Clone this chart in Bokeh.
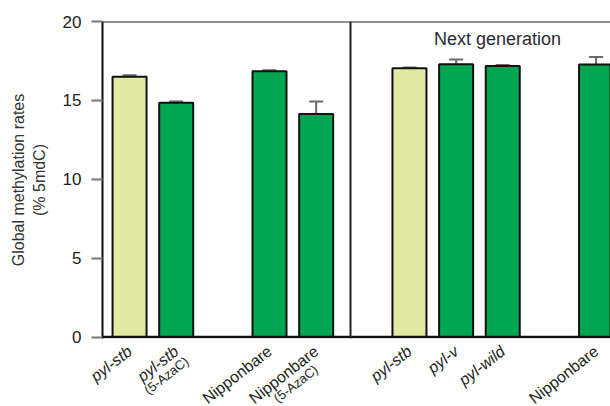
import math
from bokeh.plotting import figure
from bokeh.layouts import column
from bokeh.models import Range1d, Span, Whisker, ColumnDataSource, FixedTicker, TeeHead, Label
from bokeh.core.properties import value
from bokeh.embed import file_html
from bokeh.resources import INLINE

# ---- data ----
labels = ["pyl-stb", "pyl-stb", "Nipponbare", "Nipponbare",
          "pyl-stb", "pyl-v", "pyl-wild", "Nipponbare"]
sublabels = ["", "(5-AzaC)", "", "(5-AzaC)", "", "", "", ""]
italic = [True, True, False, False, True, True, True, False]
values = [16.5, 14.85, 16.85, 14.13, 17.04, 17.29, 17.18, 17.27]
errors = [0.1, 0.08, 0.06, 0.8, 0.04, 0.3, 0.06, 0.48]
light = [True, False, False, False, True, False, False, False]
group_sizes = [2, 2, 3, 1]
y_ticks = [0, 5, 10, 15, 20]
panel_title = "Next generation"
y_title = "Global methylation rates\n(% 5mdC)"

# ---- layout ----
W, H = 610, 406
LEFT, TOP = 102, 21
FRAME_W, FRAME_H = W - LEFT, 317
MAIN_BOTTOM = 9
MAIN_H = TOP + FRAME_H + MAIN_BOTTOM
OVERLAP = 6                      # label strip slides under the main plot's bottom border
STRIP_H = H - MAIN_H + OVERLAP
SLOT_PX = 46.65
PX_Y = FRAME_H / 20.0
x_start = -0.58
x_end = x_start + FRAME_W / SLOT_PX
FONT = "Liberation Sans"
LIGHT_C = "#e1e9a3"
GREEN_C = "#00a651"
INK = "#222222"

slots = []
s = 0
for g in group_sizes:
    for _ in range(g):
        slots.append(s)
        s += 1
    s += 1

def dx(px):
    return px / SLOT_PX

def dy(px):
    return px / PX_Y

y0 = -dy(1.5)
p = figure(width=W, height=MAIN_H,
           x_range=Range1d(x_start, x_end), y_range=Range1d(y0, 20),
           output_backend="svg", toolbar_location=None,
           min_border_left=LEFT, min_border_right=0,
           min_border_top=TOP, min_border_bottom=MAIN_BOTTOM)
p.frame_align = False
p.outline_line_color = None
p.xgrid.visible = False
p.ygrid.visible = False
p.xaxis.visible = False

src = ColumnDataSource(dict(
    x=slots, top=values,
    upper=[v + e for v, e in zip(values, errors)],
    color=[LIGHT_C if l else GREEN_C for l in light],
))

w = Whisker(source=src, base="x", lower="top", upper="upper",
            line_color="#6a6a6a", line_width=2,
            upper_head=TeeHead(size=14, line_color="#6a6a6a", line_width=2),
            lower_head=None)
p.add_layout(w)

p.vbar(x="x", top="top", bottom=0, width=dx(34), source=src, fill_color="color",
       line_color="#111111", line_width=2)

# y axis
p.yaxis.ticker = FixedTicker(ticks=y_ticks)
p.yaxis.axis_line_color = "#111111"
p.yaxis.axis_line_width = 2
p.yaxis.major_tick_in = 0
p.yaxis.major_tick_out = 11
p.yaxis.major_tick_line_color = "#777777"
p.yaxis.major_tick_line_width = 2
p.yaxis.minor_tick_line_color = None
p.yaxis.major_label_text_font = FONT
p.yaxis.major_label_text_font_size = "17px"
p.yaxis.major_label_text_color = INK
p.yaxis.major_label_standoff = 10
p.yaxis.axis_label = y_title
p.yaxis.axis_label_text_font = FONT
p.yaxis.axis_label_text_font_size = "16px"
p.yaxis.axis_label_text_font_style = "normal"
p.yaxis.axis_label_text_color = "#333333"
p.yaxis.axis_label_standoff = 12

# frame lines: bottom, top and divider
p.add_layout(Span(location=0, dimension="width", line_color="#111111", line_width=2.5))
p.add_layout(Span(location=20, dimension="width", line_color=INK, line_width=2))
divider_x = x_start + dx(350 - LEFT)
p.add_layout(Span(location=divider_x, dimension="height", line_color=INK, line_width=2))

# panel title
p.add_layout(Label(x=x_start + dx(497 - LEFT), y=20 - dy(39 - TOP), text=panel_title,
                   text_align="center", text_baseline="middle",
                   text_font=FONT, text_font_size="18px", text_color="#2a2a35"))

# ---- label strip under the bars (same x scale, transparent) ----
q = figure(width=W, height=STRIP_H,
           x_range=Range1d(x_start - dx(LEFT), x_end), y_range=Range1d(-STRIP_H, 0),
           output_backend="svg", toolbar_location=None,
           min_border_left=0, min_border_right=0, min_border_top=0, min_border_bottom=0)
q.frame_align = False
q.margin = (-OVERLAP, 0, 0, 0)
q.background_fill_color = None
q.border_fill_color = None
q.outline_line_color = None
q.axis.visible = False
q.grid.visible = False

ANG_DEG = 38
ANG = math.radians(ANG_DEG)
ux, uy = math.cos(ANG), -math.sin(ANG)   # along text (screen, y down)
nx, ny = math.sin(ANG), math.cos(ANG)    # perpendicular, downward
MAIN_FS = 16
em = {"pyl-stb": 2.95, "pyl-v": 2.17, "pyl-wild": 2.95, "Nipponbare": 5.73}
AX_PX, AY_PX = -5, 1

main_x, main_y, main_t, main_style = [], [], [], []
sub_x, sub_y, sub_t = [], [], []
for xs, lab, sub, it in zip(slots, labels, sublabels, italic):
    main_x.append(xs + dx(AX_PX))
    main_y.append(-AY_PX)
    main_t.append(lab)
    main_style.append("italic" if it else "normal")
    if sub:
        wd = em[lab] * MAIN_FS
        along = -(10 + 0.3 * wd)
        perp = 23
        cx = AX_PX + ux * along + nx * perp
        cy = AY_PX + uy * along + ny * perp
        sub_x.append(xs + dx(cx))
        sub_y.append(-cy)
        sub_t.append(sub)

q.text(x=main_x, y=main_y, text=main_t, angle=ANG_DEG, angle_units="deg",
       text_align="right", text_baseline="top", text_font=value(FONT),
       text_font_size=f"{MAIN_FS}px", text_font_style=main_style, text_color=INK)
q.text(x=sub_x, y=sub_y, text=sub_t, angle=ANG_DEG, angle_units="deg",
       text_align="center", text_baseline="middle", text_font=value(FONT),
       text_font_size="13px", text_color=INK)

layout = column(p, q, spacing=0)
open("out.html", "w").write(file_html(layout, INLINE))
